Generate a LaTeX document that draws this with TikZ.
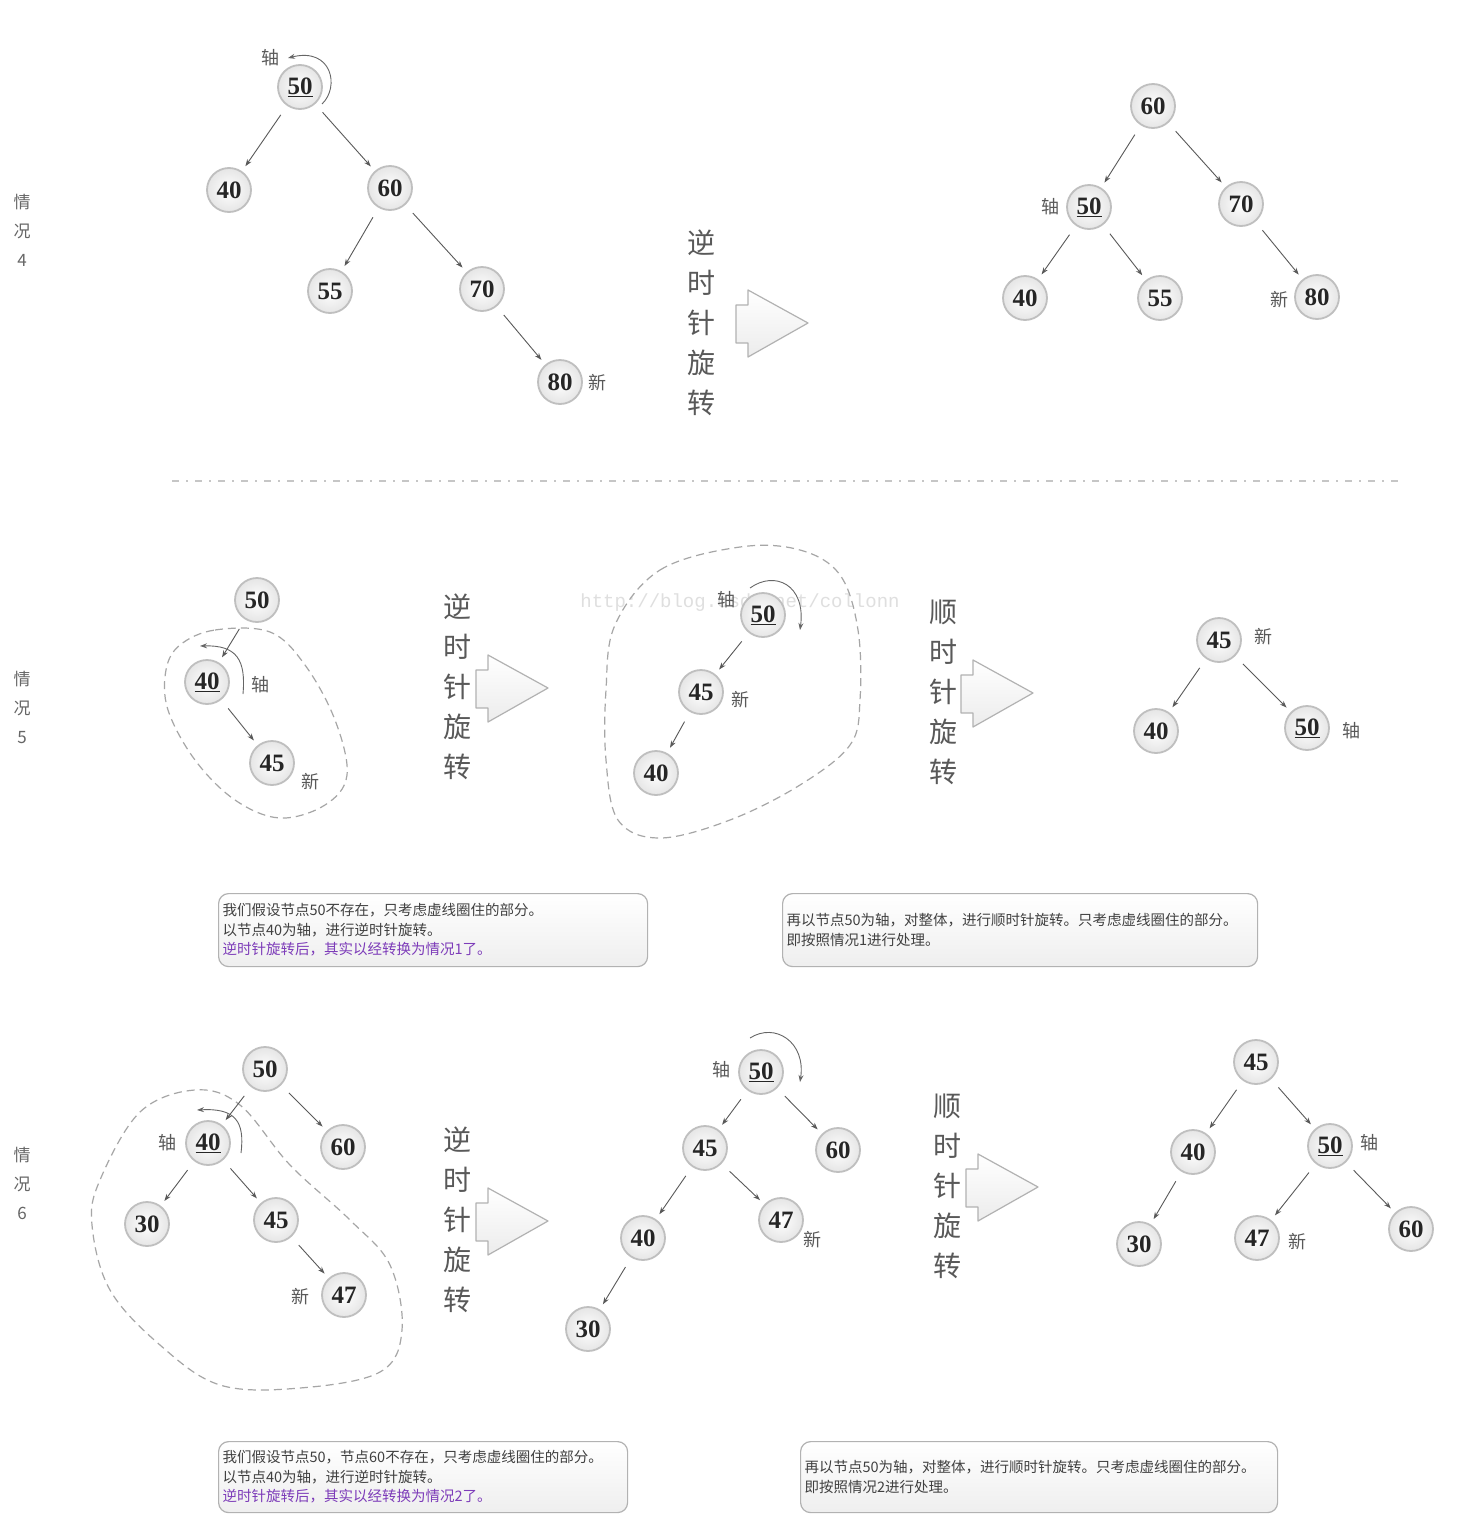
\documentclass[tikz,border=0pt]{standalone}
\usepackage{fontspec}
\setmainfont{Liberation Serif}
\newfontfamily\cjk{Noto Sans CJK SC}
\newfontfamily\monof{Liberation Mono}
\usetikzlibrary{arrows.meta,calc}
\definecolor{purp}{RGB}{125,60,185}
\newcommand\blockarr[1]{%
  \draw[bigarr] ([shift={(-72,-18)}]#1) -- ([shift={(-60,-18)}]#1) -- ([shift={(-60,-33)}]#1)
    -- (#1) -- ([shift={(-60,34)}]#1) -- ([shift={(-60,20)}]#1) -- ([shift={(-72,20)}]#1) -- cycle;}
\begin{document}
\begin{tikzpicture}[x=1pt,y=-1pt,
  bst/.style={circle, draw=gray!50, line width=1.8pt, inner sep=0pt, minimum size=44pt,
    inner color=white, outer color=gray!20, text=black!85,
    font=\fontsize{25}{25}\selectfont\bfseries},
  lab/.style={font=\cjk\fontsize{18}{18}\selectfont, text=black!65, inner sep=0pt},
  edge/.style={draw=black!65, line width=0.9pt, -{Stealth[length=7pt,width=5pt]},
    shorten <=11pt, shorten >=6pt},
  rot/.style={draw=black!60, line width=0.9pt, -{Stealth[length=7pt,width=5pt]}},
  vtxt/.style={font=\cjk\fontsize{28}{40}\selectfont, text=black!65, align=center, inner sep=0pt},
  casel/.style={font=\cjk\fontsize{17}{29}\selectfont, text=black!60, align=center, inner sep=0pt},
  bigarr/.style={draw=gray!60, line width=1.2pt, top color=white, bottom color=gray!15, line join=round},
  blob/.style={draw=gray!70, line width=1.2pt, dash pattern=on 8pt off 5pt},
  notebox/.style={draw=gray!60, line width=1.2pt, rounded corners=10pt, top color=white,
    bottom color=gray!13, anchor=north west, align=left, inner xsep=4pt, inner ysep=0pt,
    font=\cjk\fontsize{14.5}{19.5}\selectfont, text=black!75},
  sep/.style={draw=gray!45, line width=2pt, dash pattern=on 7pt off 7pt on 2pt off 7pt}
]
\useasboundingbox (0,0) rectangle (1476,1534);
\fill[white] (0,0) rectangle (1476,1534);

% ---------- case labels ----------
\node[casel] (c4) at (22,230) {情\\况\\4};
\node[casel] (c5) at (22,707) {情\\况\\5};
\node[casel] (c6) at (22,1183) {情\\况\\6};

% ---------- watermark ----------
\node[font=\monof\fontsize{19}{19}\selectfont, text=gray!25] (wm) at (740,603) {http://blog.csdn.net/collonn};

% ---------- separator ----------
\coordinate (s1) at (172,481);
\coordinate (s2) at (1402,481);
\draw[sep] (s1) -- (s2);

% ---------- dashed blobs ----------
\draw[blob] plot[smooth cycle, tension=0.6] coordinates {(180,645) (215,630) (270,632) (305,665) (335,720) (347,775) (325,805) (280,818) (235,800) (195,760) (168,710) (166,670)};
\draw[blob] plot[smooth cycle, tension=0.6] coordinates {(615,625) (660,570) (740,547) (800,550) (840,575) (858,630) (860,700) (850,745) (800,785) (730,820) (660,838) (618,820) (606,760) (606,690)};
\draw[blob] plot[smooth cycle, tension=0.6] coordinates {(100,1180) (140,1112) (195,1090) (240,1105) (290,1165) (350,1220) (390,1265) (402,1330) (380,1372) (300,1388) (220,1385) (160,1345) (110,1290) (92,1225)};

% ---------- case 4 left ----------
\node[bst] (A50) at (300,87) {\underline{50}};
\node[bst] (A40) at (229,190) {40};
\node[bst] (A60) at (390,188) {60};
\node[bst] (A55) at (330,291) {55};
\node[bst] (A70) at (482,289) {70};
\node[bst] (A80) at (560,382) {80};
\node[lab] (A50l) at (270,58) {轴};
\node[lab] (A80l) at (597,383) {新};
\draw[edge] (A50) -- (A40);
\draw[edge] (A50) -- (A60);
\draw[edge] (A60) -- (A55);
\draw[edge] (A60) -- (A70);
\draw[edge] (A70) -- (A80);
\draw[rot] ([shift={(22,17)}]A50.center) .. controls ([shift={(40,0)}]A50.center) and ([shift={(32,-40)}]A50.center) .. ([shift={(-12,-29)}]A50.center);

% ---------- arrow 1 ----------
\node[vtxt] (v1) at (701,323) {逆\\时\\针\\旋\\转};
\coordinate (t1) at (808,323);
\blockarr{t1}

% ---------- case 4 right ----------
\node[bst] (B60) at (1153,106) {60};
\node[bst] (B50) at (1089,207) {\underline{50}};
\node[bst] (B70) at (1241,204) {70};
\node[bst] (B40) at (1025,298) {40};
\node[bst] (B55) at (1160,298) {55};
\node[bst] (B80) at (1317,297) {80};
\node[lab] (B50l) at (1050,207) {轴};
\node[lab] (B80l) at (1279,300) {新};
\draw[edge] (B60) -- (B50);
\draw[edge] (B60) -- (B70);
\draw[edge] (B50) -- (B40);
\draw[edge] (B50) -- (B55);
\draw[edge] (B70) -- (B80);

% ---------- case 5 left ----------
\node[bst] (C50) at (257,600) {50};
\node[bst] (C40) at (207,682) {\underline{40}};
\node[bst] (C45) at (272,763) {45};
\node[lab] (C40l) at (260,685) {轴};
\node[lab] (C45l) at (310,782) {新};
\draw[edge] (C50) -- (C40);
\draw[edge] (C40) -- (C45);
\draw[rot] ([shift={(36,12)}]C40.center) .. controls ([shift={(39,-22)}]C40.center) and ([shift={(30,-37)}]C40.center) .. ([shift={(-7,-36)}]C40.center);

% ---------- arrow 2 ----------
\node[vtxt] (v2) at (457,687) {逆\\时\\针\\旋\\转};
\coordinate (t2) at (548,688);
\blockarr{t2}

% ---------- case 5 middle ----------
\node[bst] (D50) at (763,615) {\underline{50}};
\node[bst] (D45) at (701,692) {45};
\node[bst] (D40) at (656,773) {40};
\node[lab] (D50l) at (726,600) {轴};
\node[lab] (D45l) at (740,700) {新};
\draw[edge] (D50) -- (D45);
\draw[edge] (D45) -- (D40);
\draw[rot] ([shift={(-13,-27)}]D50.center) .. controls ([shift={(12,-45)}]D50.center) and ([shift={(43,-30)}]D50.center) .. ([shift={(37,15)}]D50.center);

% ---------- arrow 3 ----------
\node[vtxt] (v3) at (943,692) {顺\\时\\针\\旋\\转};
\coordinate (t3) at (1033,693);
\blockarr{t3}

% ---------- case 5 right ----------
\node[bst] (E45) at (1219,640) {45};
\node[bst] (E40) at (1156,731) {40};
\node[bst] (E50) at (1307,728) {\underline{50}};
\node[lab] (E45l) at (1263,637) {新};
\node[lab] (E50l) at (1351,731) {轴};
\draw[edge] (E45) -- (E40);
\draw[edge] (E45) -- (E50);

% ---------- notes row 1 ----------
\node[notebox, minimum width=429pt, minimum height=73pt, text width=421pt] (n1) at (218,893)
  {我们假设节点50不存在，只考虑虚线圈住的部分。\\以节点40为轴，进行逆时针旋转。\\\textcolor{purp}{逆时针旋转后，其实以经转换为情况1了。}};
\node[notebox, minimum width=475pt, minimum height=73pt, text width=467pt] (n2) at (782,893)
  {再以节点50为轴，对整体，进行顺时针旋转。只考虑虚线圈住的部分。\\即按照情况1进行处理。};

% ---------- case 6 left ----------
\node[bst] (F50) at (265,1069) {50};
\node[bst] (F40) at (208,1143) {\underline{40}};
\node[bst] (F60) at (343,1147) {60};
\node[bst] (F30) at (147,1224) {30};
\node[bst] (F45) at (276,1220) {45};
\node[bst] (F47) at (344,1295) {47};
\node[lab] (F40l) at (167,1143) {轴};
\node[lab] (F47l) at (300,1297) {新};
\draw[edge] (F50) -- (F40);
\draw[edge] (F50) -- (F60);
\draw[edge] (F40) -- (F30);
\draw[edge] (F40) -- (F45);
\draw[edge] (F45) -- (F47);
\draw[rot] ([shift={(33,10)}]F40.center) .. controls ([shift={(37,-22)}]F40.center) and ([shift={(27,-35)}]F40.center) .. ([shift={(-11,-33)}]F40.center);

% ---------- arrow 4 ----------
\node[vtxt] (v4) at (457,1220) {逆\\时\\针\\旋\\转};
\coordinate (t4) at (548,1221);
\blockarr{t4}

% ---------- case 6 middle ----------
\node[bst] (G50) at (761,1072) {\underline{50}};
\node[bst] (G45) at (705,1148) {45};
\node[bst] (G60) at (838,1150) {60};
\node[bst] (G40) at (643,1238) {40};
\node[bst] (G47) at (781,1220) {47};
\node[bst] (G30) at (588,1329) {30};
\node[lab] (G50l) at (721,1070) {轴};
\node[lab] (G47l) at (812,1240) {新};
\draw[edge] (G50) -- (G45);
\draw[edge] (G50) -- (G60);
\draw[edge] (G45) -- (G40);
\draw[edge] (G45) -- (G47);
\draw[edge] (G40) -- (G30);
\draw[rot] ([shift={(-11,-34)}]G50.center) .. controls ([shift={(14,-50)}]G50.center) and ([shift={(45,-30)}]G50.center) .. ([shift={(39,10)}]G50.center);

% ---------- arrow 5 ----------
\node[vtxt] (v5) at (947,1186) {顺\\时\\针\\旋\\转};
\coordinate (t5) at (1038,1187);
\blockarr{t5}

% ---------- case 6 right ----------
\node[bst] (H45) at (1256,1062) {45};
\node[bst] (H40) at (1193,1152) {40};
\node[bst] (H50) at (1330,1146) {\underline{50}};
\node[bst] (H30) at (1139,1244) {30};
\node[bst] (H47) at (1257,1238) {47};
\node[bst] (H60) at (1411,1229) {60};
\node[lab] (H50l) at (1369,1143) {轴};
\node[lab] (H47l) at (1297,1242) {新};
\draw[edge] (H45) -- (H40);
\draw[edge] (H45) -- (H50);
\draw[edge] (H40) -- (H30);
\draw[edge] (H50) -- (H47);
\draw[edge] (H50) -- (H60);

% ---------- notes row 2 ----------
\node[notebox, minimum width=409pt, minimum height=71pt, text width=401pt] (n3) at (218,1441)
  {我们假设节点50，节点60不存在，只考虑虚线圈住的部分。\\以节点40为轴，进行逆时针旋转。\\\textcolor{purp}{逆时针旋转后，其实以经转换为情况2了。}};
\node[notebox, minimum width=477pt, minimum height=71pt, text width=469pt] (n4) at (800,1441)
  {再以节点50为轴，对整体，进行顺时针旋转。只考虑虚线圈住的部分。\\即按照情况2进行处理。};
\end{tikzpicture}
\end{document}
